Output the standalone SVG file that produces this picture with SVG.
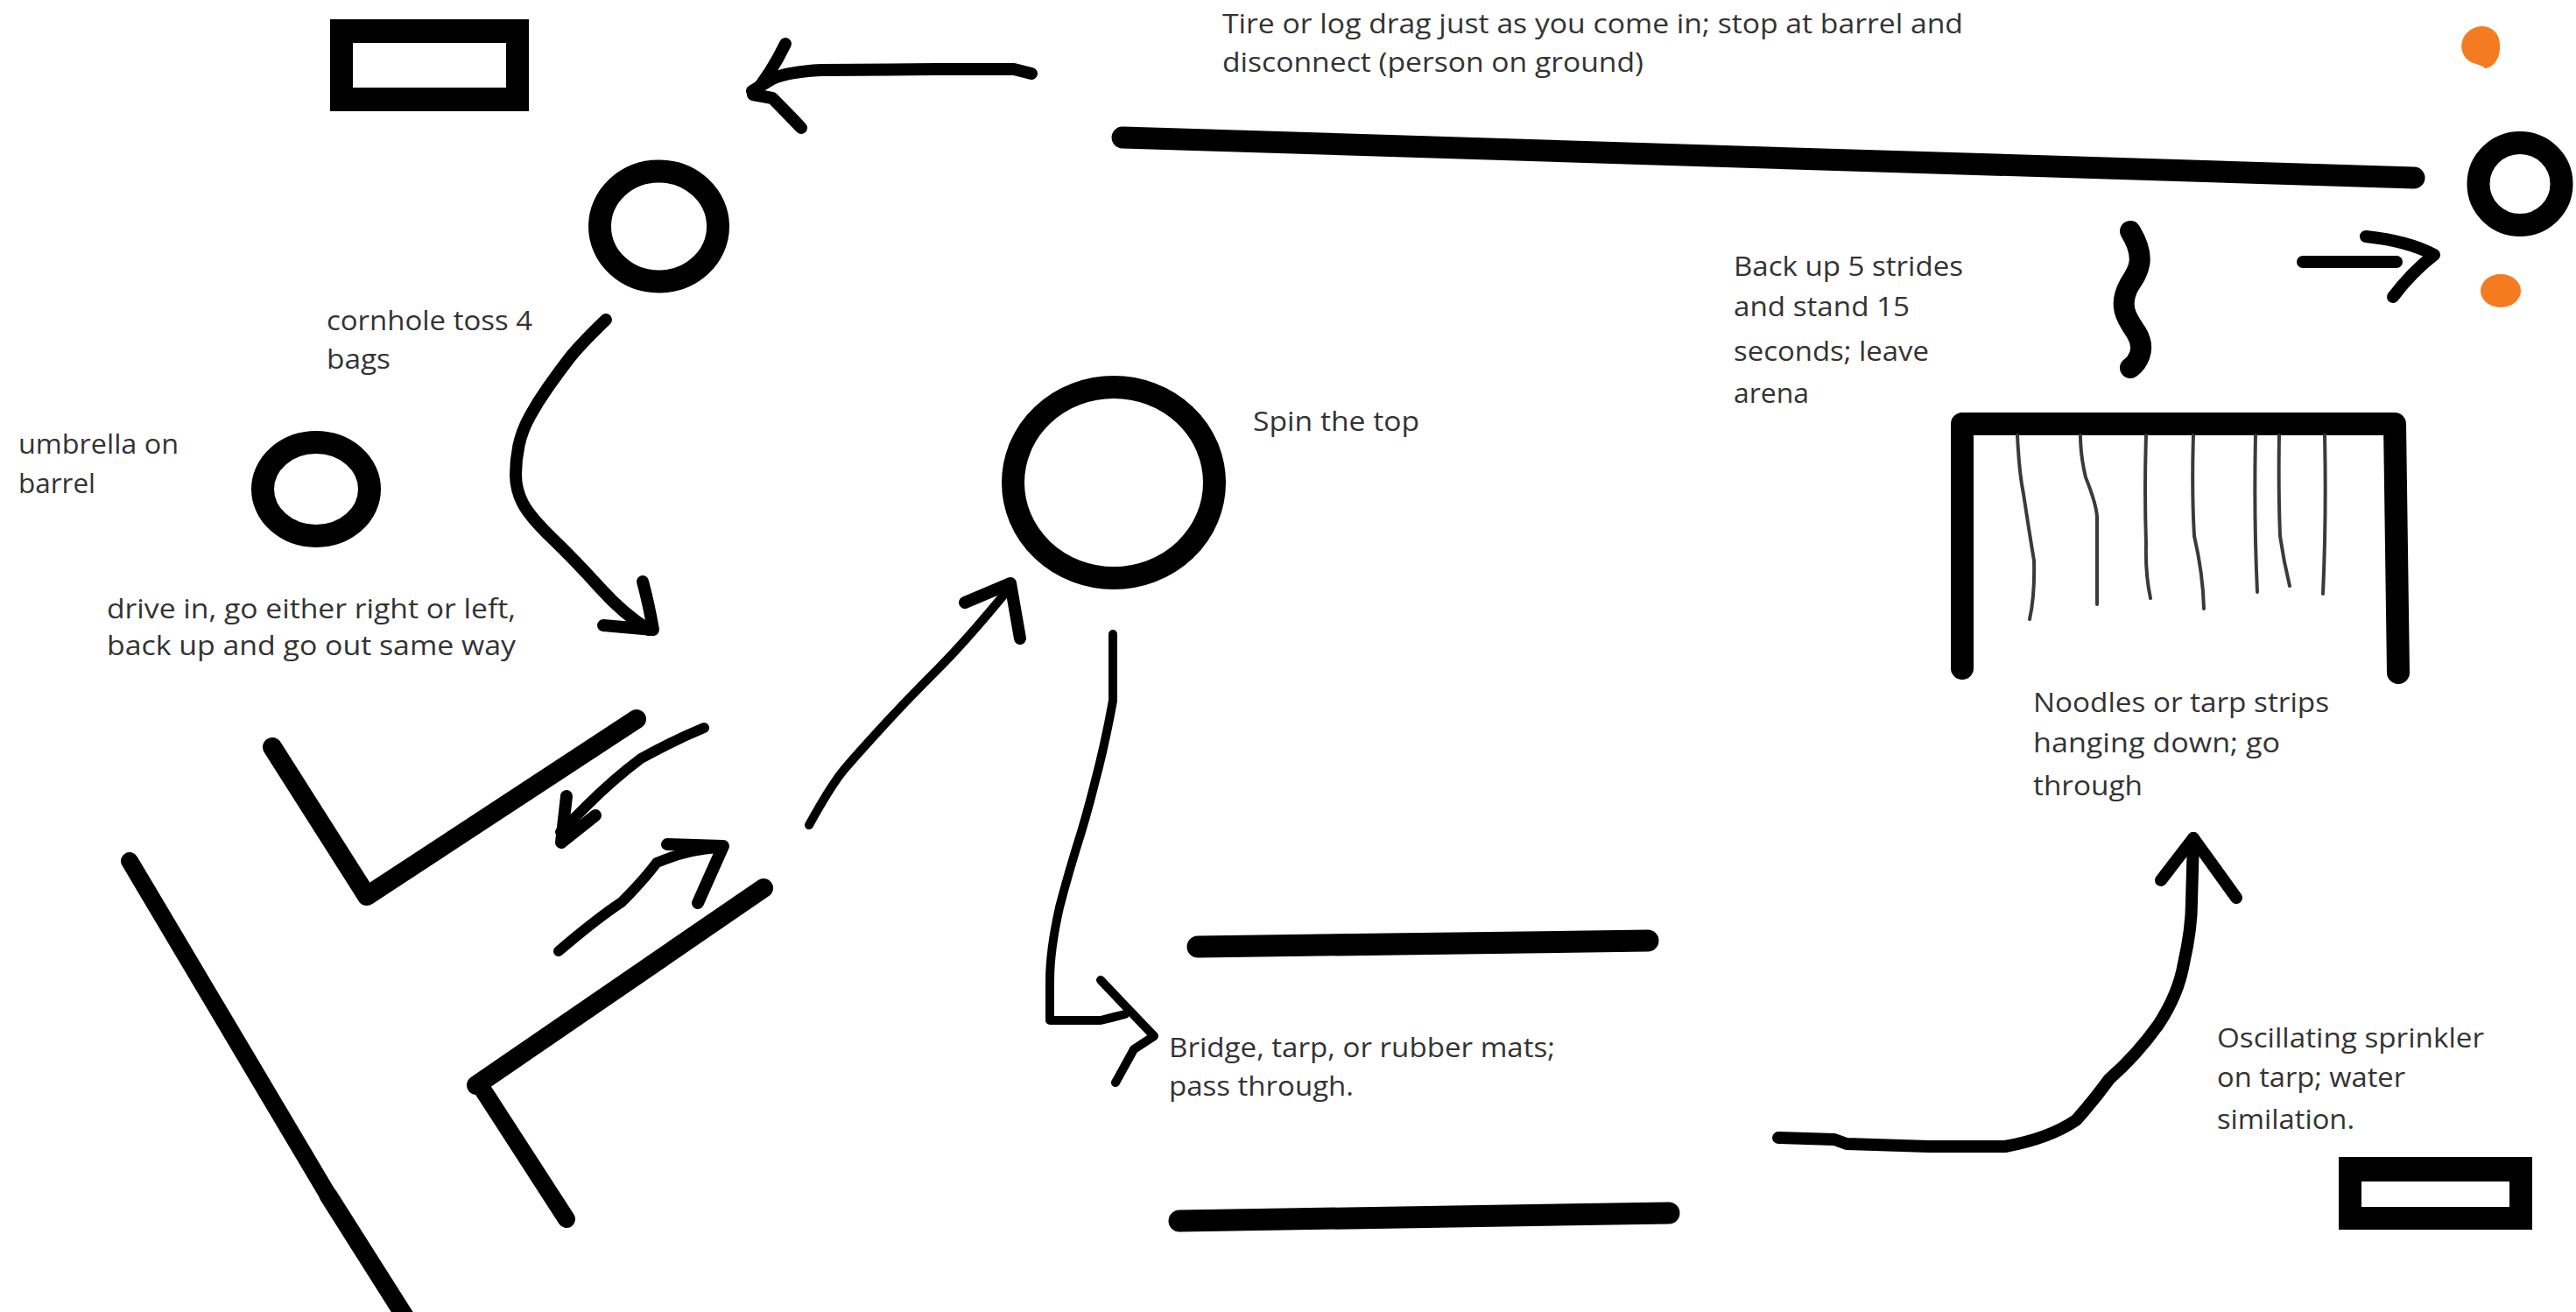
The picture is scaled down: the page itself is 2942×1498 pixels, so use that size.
<svg xmlns="http://www.w3.org/2000/svg" width="2942" height="1498" viewBox="0 0 2942 1498">
<style>
.ring{fill:none;stroke:#000;stroke-width:26}
.bar{fill:none;stroke:#000;stroke-width:25;stroke-linecap:round;stroke-linejoin:round}
.ell{stroke-width:22}
.ink{fill:none;stroke:#000;stroke-width:14;stroke-linecap:round;stroke-linejoin:round}
.thin{stroke-width:10}
.noodle{fill:none;stroke:#3a3a3a;stroke-width:4;stroke-linecap:round;stroke-linejoin:round}
.box{fill:#000;fill-rule:evenodd}
.dot{fill:#f47b20}
text{font-family:"Open Sans","Noto Sans","Liberation Sans",sans-serif;font-size:31px;fill:#333}
</style>
<rect width="2942" height="1498" fill="#fff"/>
<g id="connectors">
<path class="ink" d="M1178 84L1158 79L1069 79L938 80Q900 82 882 90L859 104"/>
<path class="ink" d="M897 50Q880 85 860 108L882 112Q900 130 915 146"/>
<path class="ink" d="M692 365Q661 395 649.500 410Q638 425 626 442Q614 459 605 475.500Q596 492 592.500 508.500Q589 525 589 542Q589 559 597 574.500Q605 590 631 615Q657 640 685 671Q713 702 741 719"/>
<path class="ink" d="M734 664Q741 690 746 719L689 714"/>
<path class="ink thin" d="M924 942Q950 895 965 877.500Q980 860 1007.500 830Q1035 800 1070 765Q1105 730 1154 670"/>
<path class="ink" d="M1102 688L1154 666L1165 729"/>
<path class="ink thin" d="M1271 724L1271 800Q1262 850 1250 895Q1240 935 1229 969Q1218 1005 1210 1036Q1199 1085 1199 1120L1199 1165L1257 1165L1285 1158"/>
<path class="ink thin" d="M1257 1119L1318 1183L1295 1198L1274 1236"/>
<path class="ink" style="stroke-width:12" d="M804 831Q770 845 732 866Q700 890 670 920L640 950"/>
<path class="ink" d="M647 909L641 962L680 931"/>
<path class="ink" style="stroke-width:12" d="M638 1086Q680 1050 710 1030Q735 1005 750 985Q785 970 820 968"/>
<path class="ink" d="M762 964L826 966L797 1031"/>
<path class="ink" d="M2031 1299L2095 1301L2109 1306L2203 1309L2290 1309Q2340 1300 2371 1279Q2390 1258 2409 1232Q2440 1205 2465 1170Q2488 1135 2494 1100Q2503 1060 2503 1030L2505 957"/>
<path class="ink" d="M2468 1005L2505 957L2554 1025"/>
<path class="ink" d="M2630 299L2737 299"/>
<path class="ink" d="M2702 270Q2750 275 2780 291Q2755 310 2733 339"/>
</g>
<g id="start-box"><path class="box" d="M377 22H604V127H377ZM403 49V100H578V49Z"/></g>
<g id="tire-log-drag">
<path class="bar" d="M1282 157L2757 203"/>
<text x="1396" y="38" textLength="846" lengthAdjust="spacingAndGlyphs">Tire or log drag just as you come in; stop at barrel and</text>
<text x="1396" y="82" textLength="481" lengthAdjust="spacingAndGlyphs">disconnect (person on ground)</text>
</g>
<g id="cornhole">
<ellipse class="ring" cx="752.500" cy="258.500" rx="67.500" ry="63"/>
<text x="373" y="377" textLength="235" lengthAdjust="spacingAndGlyphs">cornhole toss 4</text>
<text x="373" y="421" textLength="73" lengthAdjust="spacingAndGlyphs">bags</text>
</g>
<g id="umbrella">
<ellipse class="ring" cx="361" cy="558.500" rx="61" ry="53.500"/>
<text x="21" y="518" textLength="183" lengthAdjust="spacingAndGlyphs">umbrella on</text>
<text x="21" y="563" textLength="88" lengthAdjust="spacingAndGlyphs">barrel</text>
</g>
<g id="drive-in">
<path class="bar ell" d="M311 853L419 1023L727 821"/>
<path class="bar ell" d="M872 1014L544 1239"/>
<path class="bar" style="stroke-width:20" d="M548 1239L647 1392"/>
<path class="bar" style="stroke-width:20" d="M148 983L375 1365"/>
<path class="bar" style="stroke-width:21" d="M375 1365L470 1515"/>
<text x="122" y="706" textLength="467" lengthAdjust="spacingAndGlyphs">drive in, go either right or left,</text>
<text x="122" y="748" textLength="467" lengthAdjust="spacingAndGlyphs">back up and go out same way</text>
</g>
<g id="spin-top">
<ellipse class="ring" cx="1272" cy="551" rx="115" ry="109"/>
<text x="1431" y="492" textLength="190" lengthAdjust="spacingAndGlyphs">Spin the top</text>
</g>
<g id="bridge">
<path class="bar" d="M1368 1081L1882 1074"/>
<path class="bar" d="M1347 1394L1906 1385"/>
<text x="1335" y="1207" textLength="441" lengthAdjust="spacingAndGlyphs">Bridge, tarp, or rubber mats;</text>
<text x="1335" y="1251" textLength="211" lengthAdjust="spacingAndGlyphs">pass through.</text>
</g>
<g id="noodles">
<path class="bar" style="stroke-width:26" d="M2241 763V484H2735L2739 768"/>
<path class="noodle" d="M2304 497Q2306 540 2311 564Q2318 610 2323 640Q2324 680 2318 707"/>
<path class="noodle" d="M2376 497Q2376 520 2382 545Q2394 575 2395 590L2395 690"/>
<path class="noodle" d="M2451 497Q2449 560 2451 621Q2450 655 2456 683"/>
<path class="noodle" d="M2505 497Q2503 560 2506 612Q2516 655 2517 695"/>
<path class="noodle" d="M2576 497Q2574 590 2578 676"/>
<path class="noodle" d="M2603 497Q2602 560 2604 612Q2608 640 2615 669"/>
<path class="noodle" d="M2655 497Q2657 590 2653 678"/>
<text x="2322" y="813" textLength="338" lengthAdjust="spacingAndGlyphs">Noodles or tarp strips</text>
<text x="2322" y="859" textLength="282" lengthAdjust="spacingAndGlyphs">hanging down; go</text>
<text x="2322" y="908" textLength="125" lengthAdjust="spacingAndGlyphs">through</text>
</g>
<g id="back-up">
<path class="bar" style="stroke-width:24" d="M2433 264C2452 295 2442 310 2432 325C2418 350 2430 365 2440 380C2452 400 2440 415 2433 420"/>
<text x="1980" y="315" textLength="262" lengthAdjust="spacingAndGlyphs">Back up 5 strides</text>
<text x="1980" y="361" textLength="201" lengthAdjust="spacingAndGlyphs">and stand 15</text>
<text x="1980" y="412" textLength="223" lengthAdjust="spacingAndGlyphs">seconds; leave</text>
<text x="1980" y="460" textLength="86" lengthAdjust="spacingAndGlyphs">arena</text>
</g>
<g id="barrel">
<ellipse class="ring" cx="2878" cy="210" rx="47.500" ry="47"/>
<path class="dot" d="M2835 30C2850 31 2856 42 2855 55C2855 68 2846 78 2838 78C2832 72 2822 74 2816 66C2810 58 2810 50 2814 42C2818 35 2826 30 2835 30Z"/>
<ellipse class="dot" cx="2856" cy="332" rx="23" ry="19"/>
</g>
<g id="sprinkler">
<path class="box" d="M2671 1321H2892V1404H2671ZM2697 1349V1378H2866V1349Z"/>
<text x="2532" y="1196" textLength="305" lengthAdjust="spacingAndGlyphs">Oscillating sprinkler</text>
<text x="2532" y="1241" textLength="215" lengthAdjust="spacingAndGlyphs">on tarp; water</text>
<text x="2532" y="1289" textLength="157" lengthAdjust="spacingAndGlyphs">similation.</text>
</g>
</svg>
